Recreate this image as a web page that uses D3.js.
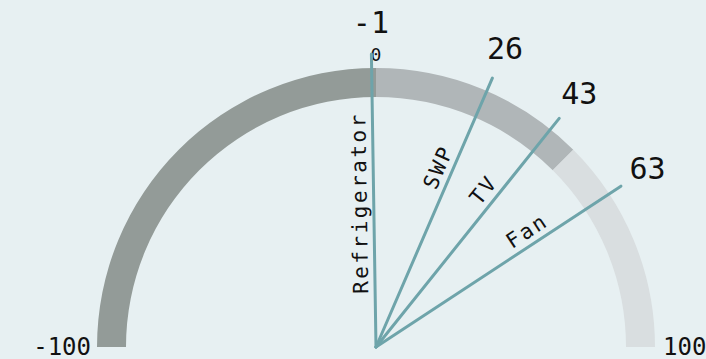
<!DOCTYPE html>
<html>
<head>
<meta charset="utf-8">
<script src="https://cdn.jsdelivr.net/npm/d3@7"></script>
<style>
  html, body { margin: 0; padding: 0; background: #e7f0f2; }
  svg { display: block; }
  text { font-family: "DejaVu Sans Mono", monospace; fill: #111; }
</style>
</head>
<body>
<script>
// data
var categories = ['Refrigerator', 'SWP', 'TV', 'Fan'];
var values = [-1, 26, 43, 63];
var bandStops = [-100, 0, 50, 100];
var tickValues = [-100, 0, 100];

var width = 706, height = 359;
var cx = 376, cy = 347;
var outerR = 279, innerR = 250;
var needleR = 293, valueR = 325;
var bandColors = ['#939b98', '#b0b6b8', '#d9dee0'];

var angle = d3.scaleLinear()
  .domain([-100, 100])
  .range([-Math.PI / 2, Math.PI / 2]);

var svg = d3.select('body').append('svg')
  .attr('width', width)
  .attr('height', height);

var g = svg.append('g')
  .attr('transform', 'translate(' + cx + ',' + cy + ')');

var arc = d3.arc()
  .innerRadius(innerR)
  .outerRadius(outerR);

var bands = d3.range(bandStops.length - 1).map(function(i) {
  return { from: bandStops[i], to: bandStops[i + 1], i: i };
});

g.selectAll('.band')
  .data(bands)
  .enter().append('path')
  .attr('class', 'band')
  .attr('d', function(d) {
    return arc({ startAngle: angle(d.from), endAngle: angle(d.to) });
  })
  .attr('fill', function(d) { return bandColors[d.i]; });

// scale labels
g.selectAll('.tick')
  .data(tickValues)
  .enter().append('text')
  .attr('class', 'tick')
  .attr('x', function(d) {
    if (d === 0) return 0;
    return d < 0 ? -outerR - 6 : outerR + 8;
  })
  .attr('y', function(d) { return d === 0 ? -outerR - 14 : 0; })
  .attr('text-anchor', function(d) { return d === 0 ? 'middle' : (d < 0 ? 'end' : 'start'); })
  .attr('dominant-baseline', 'central')
  .style('font-size', function(d) { return d === 0 ? '18px' : '24px'; })
  .text(function(d) { return d; });

var rows = categories.map(function(c, i) { return { name: c, value: values[i] }; });

// needles
g.selectAll('.needle')
  .data(rows)
  .enter().append('line')
  .attr('class', 'needle')
  .attr('x1', 0).attr('y1', 0)
  .attr('x2', function(d) { return needleR * Math.sin(angle(d.value)); })
  .attr('y2', function(d) { return -needleR * Math.cos(angle(d.value)); })
  .attr('stroke', '#6ea4aa')
  .attr('stroke-width', 3)
  .attr('stroke-linecap', 'round');

// value numbers at needle tips
g.selectAll('.value')
  .data(rows)
  .enter().append('text')
  .attr('class', 'value')
  .attr('x', function(d) { return valueR * Math.sin(angle(d.value)); })
  .attr('y', function(d) { return -valueR * Math.cos(angle(d.value)); })
  .attr('text-anchor', 'middle')
  .attr('dominant-baseline', 'central')
  .style('font-size', '30px')
  .text(function(d) { return d.value; });

// category names along needles
var names = g.selectAll('.name')
  .data(rows)
  .enter().append('text')
  .attr('class', 'name')
  .attr('y', -7)
  .attr('text-anchor', 'middle')
  .style('font-size', '21px')
  .style('letter-spacing', '2.5px')
  .text(function(d) { return d.name; });

names.each(function(d) {
  var len = this.getComputedTextLength();
  var mid = Math.min(190, innerR - 15 - len / 2);
  d3.select(this)
    .attr('x', mid)
    .attr('transform', 'rotate(' + (angle(d.value) * 180 / Math.PI - 90) + ')');
});
</script>
</body>
</html>
